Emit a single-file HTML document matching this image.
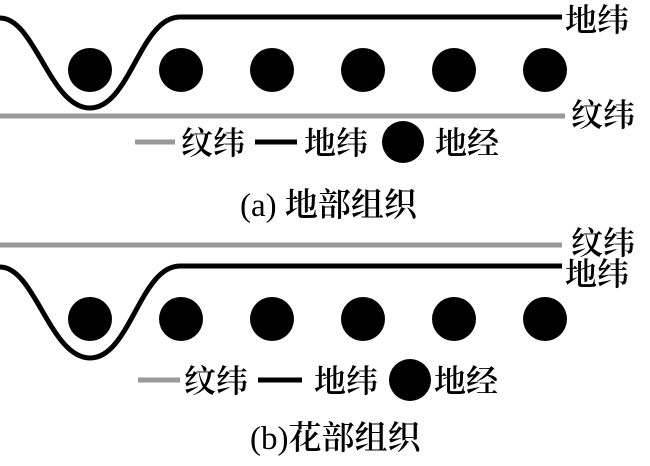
<!DOCTYPE html>
<html><head><meta charset="utf-8"><style>
body{margin:0;background:#fff;width:650px;height:461px;overflow:hidden}
text{font-family:"Liberation Serif","Noto Serif CJK SC",serif;fill:#000;font-weight:600}
.n{font-weight:400}
</style></head><body>
<svg width="650" height="461" viewBox="0 0 650 461">
<g fill="#000">
<circle cx="90" cy="70" r="22"/><circle cx="181" cy="70" r="22"/><circle cx="272" cy="70" r="22"/>
<circle cx="363" cy="70" r="22"/><circle cx="454" cy="70" r="22"/><circle cx="545" cy="70" r="22"/>
<circle cx="90" cy="319" r="22"/><circle cx="181" cy="319" r="22"/><circle cx="272" cy="319" r="22"/>
<circle cx="363" cy="319" r="22"/><circle cx="454" cy="319" r="22"/><circle cx="545" cy="319" r="22"/>
<circle cx="403" cy="142" r="21"/><circle cx="410" cy="380" r="21"/>
</g>
<path d="M0,18 C35,18 50,108 90,108 C130,108 140,17 180,17 L562,17" fill="none" stroke="#000" stroke-width="5"/>
<path d="M0,267 C35,267 50,358 90,358 C130,358 140,266 180,266 L562,266" fill="none" stroke="#000" stroke-width="5"/>
<line x1="0" y1="116" x2="565" y2="116" stroke="#999" stroke-width="5"/>
<line x1="0" y1="245" x2="562" y2="245" stroke="#999" stroke-width="5"/>
<line x1="135" y1="142" x2="175" y2="142" stroke="#999" stroke-width="5"/>
<line x1="255" y1="142" x2="297" y2="142" stroke="#000" stroke-width="5"/>
<line x1="138" y1="380" x2="180" y2="380" stroke="#999" stroke-width="5"/>
<line x1="258" y1="380" x2="302" y2="380" stroke="#000" stroke-width="5"/>
<g font-size="32">
<text x="565" y="31">地纬</text>
<text x="571" y="126">纹纬</text>
<text x="181" y="154">纹纬</text>
<text x="304" y="154">地纬</text>
<text x="435" y="154">地经</text>
<text x="571" y="254">纹纬</text>
<text x="565" y="285">地纬</text>
<text x="184" y="392">纹纬</text>
<text x="314" y="392">地纬</text>
<text x="434" y="392">地经</text>
</g>
<g font-size="33">
<text x="240" y="216"><tspan class="n">(a) </tspan>地部组织</text>
<text x="250" y="449"><tspan class="n">(b)</tspan>花部组织</text>
</g>
</svg>
</body></html>
